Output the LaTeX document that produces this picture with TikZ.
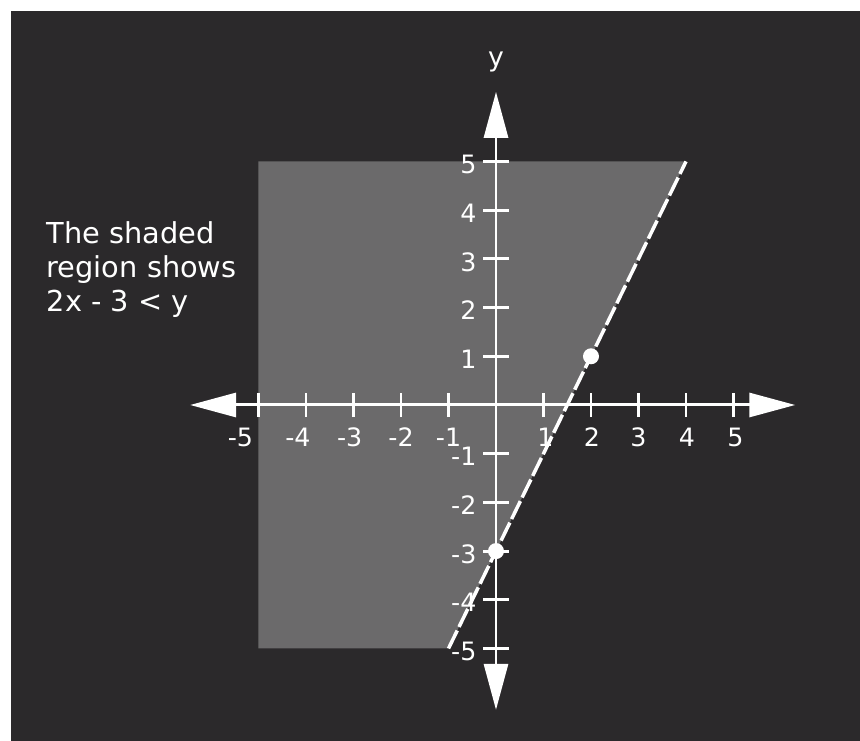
\documentclass[tikz,border=0pt]{standalone}
\usepackage{fontspec}
\setmainfont{DejaVu Sans}
\usetikzlibrary{arrows.meta, positioning}
\definecolor{boardbg}{HTML}{2B292B}
\definecolor{shadegray}{HTML}{6B6A6B}

\begin{document}
\begin{tikzpicture}[x=0.475cm, y=0.487cm, line width=0.85pt,
  axis/.style={white, {Triangle[length=4.6mm, width=2.4mm]}-{Triangle[length=4.6mm, width=2.4mm]}},
  boundary/.style={white, line width=1pt, dash pattern=on 2mm off 0.4mm},
  ticklabel/.style={text=white, inner sep=0pt, font=\fontsize{7.2}{8}\selectfont},
  dot/.style={circle, fill=white, inner sep=0pt, minimum size=1.6mm}]

  % Frame
  \fill[boardbg] (-10.442,-6.899) rectangle (7.663,8.316);
  \fill[white] (-10.442,-6.899) rectangle (-10.21,8.316);
  \fill[white] (-10.442,8.09) rectangle (7.663,8.316);
  \useasboundingbox (-10.442,-6.899) rectangle (7.663,8.316);

  % Region
  \coordinate (TL) at (-5,5);
  \coordinate (TR) at (4,5);
  \coordinate (BR) at (-1,-5);
  \coordinate (BL) at (-5,-5);
  \fill[shadegray] (TL) -- (TR) -- (BR) -- (BL) -- cycle;

  % Axes
  \coordinate (xmin) at (-6.44,0);
  \coordinate (xmax) at (6.3,0);
  \coordinate (ymin) at (0,-6.26);
  \coordinate (ymax) at (0,6.43);
  \draw[axis] (xmin) -- (xmax);
  \draw[axis] (ymin) -- (ymax);
  \node (ylab) [ticklabel, font=\fontsize{7.6}{8}\selectfont] at (0,7.04) {y};

  % Ticks
  \foreach \v/\dx in {-5/-0.38, -4/-0.17, -3/-0.08, -2/0, -1/0, 1/0.04, 2/0.02, 3/0, 4/0.02, 5/0.04} {
    \draw[white] (\v,-0.25) -- (\v,0.25);
    \node (xt\v) [ticklabel] at (\v+\dx,-0.66) {\v};
  }
  \foreach \v in {-5,-4,-3,-2,-1,1,2,3,4,5} {
    \draw[white] (-0.27,\v) -- (0.27,\v);
    \node (yt\v) [ticklabel, anchor=east] at (-0.38,\v-0.06) {\v};
  }

  % Boundary line y = 2x - 3
  \draw[boundary] (BR) -- (TR);
  \node (P) [dot] at (2,1) {};
  \node (Q) [dot] at (0,-3) {};

  % Caption
  \node (cap) [text=white, inner sep=0pt, anchor=north west, align=left,
    font=\fontsize{8.2}{9.7}\selectfont] at (-9.49,3.8)
    {The shaded\\region shows\\2x - 3 < y};

\end{tikzpicture}
\end{document}
